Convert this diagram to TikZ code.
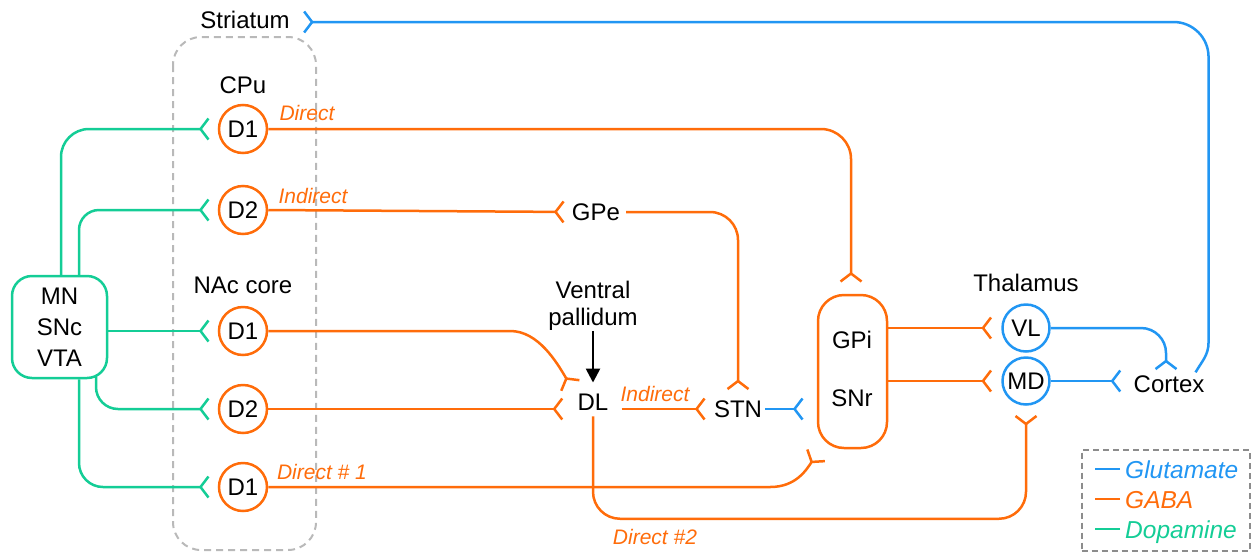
\documentclass[tikz,border=0pt]{standalone}
\usepackage{fontspec}
\setmainfont{Liberation Sans}
\usetikzlibrary{arrows.meta,calc}
\definecolor{gaba}{RGB}{255,108,10}
\definecolor{glu}{RGB}{33,150,243}
\definecolor{dop}{RGB}{20,205,150}
\definecolor{boxgray}{RGB}{185,185,185}
\definecolor{leggray}{RGB}{140,140,140}
\begin{document}
\begin{tikzpicture}[x=1pt,y=-1pt,
  every node/.style={inner sep=0pt, font=\fontsize{24}{31}\selectfont},
  lab/.style={font=\fontsize{21}{24}\selectfont\itshape, text=gaba},
  legtext/.style={font=\fontsize{24.5}{26}\selectfont\itshape, anchor=base west},
  cell/.style={circle, draw=gaba, line width=2.5pt, minimum size=48pt, inner sep=0pt},
  thcell/.style={circle, draw=glu, line width=2.5pt, minimum size=47pt, inner sep=0pt},
  con/.style={line width=2.5pt},
  syn/.style={-{Straight Barb[reversed,length=8pt,width=21pt]}},
  gab/.style={con, gaba, syn},
  glut/.style={con, glu, syn},
  dopa/.style={con, dop, syn},
]
\useasboundingbox (0,0) rectangle (1252,552);

% group box
\draw[boxgray, line width=2pt, dash pattern=on 7pt off 5pt, rounded corners=28pt] (173,37) rectangle (316,550);

% nodes
\node (striatum) at (245,20) {Striatum};
\node (cpu) at (243,85) {CPu};
\node[cell] (c1) at (243,129) {D1};
\node[cell] (c2) at (243,210) {D2};
\node (nac) at (243,285) {NAc core};
\node[cell] (n1) at (243,331) {D1};
\node[cell] (n2) at (243,409) {D2};
\node[cell] (n3) at (243,487) {D1};
\node[draw=dop, line width=2.5pt, rounded corners=20pt, minimum width=95pt, minimum height=102pt, align=center] (mn) at (59.5,327) {MN\\SNc\\VTA};
\node (gpe) at (596,212) {GPe};
\node[align=center, font=\fontsize{24}{27}\selectfont] (vp) at (593,306) {Ventral\\pallidum};
\node (dl) at (593,402) {DL};
\node (stn) at (738,409) {STN};
\node[draw=gaba, line width=2.5pt, rounded corners=26pt, minimum width=69pt, minimum height=153pt] (gpi) at (852.5,371.5) {};
\node (gpitext) at (852,340) {GPi};
\node (snr) at (852,398) {SNr};
\node (thal) at (1026,283) {Thalamus};
\node[thcell] (vl) at (1026,328) {VL};
\node[thcell] (md) at (1026,381) {MD};
\node (cortex) at (1169,384) {Cortex};

% dopamine
\draw[dopa, rounded corners=28pt, shorten >=8pt] ([xshift=1.5pt]mn.north) |- (c1.west);
\draw[dopa, rounded corners=20pt, shorten >=8pt] ([xshift=19.5pt]mn.north) |- (c2.west);
\draw[dopa, shorten >=8pt] (n1.west -| mn.east) -- (n1.west);
\draw[dopa, rounded corners=22pt, shorten >=8pt] ([xshift=36.5pt,yshift=3pt]mn.south) |- (n2.west);
\draw[dopa, rounded corners=24pt, shorten >=8pt] ([xshift=19.5pt]mn.south) |- (n3.west);

% GABA
\draw[gab, rounded corners=30pt, shorten >=11pt] (c1.east) -| ([xshift=-1.5pt]gpi.north);
\draw[gab, shorten >=7pt] (c2.east) -- (gpe.west);
\draw[gab, rounded corners=28pt, shorten <=6pt, shorten >=10pt] (gpe.east) -| (stn.north);
\coordinate (dlin) at ([xshift=-6.5pt,yshift=7pt]dl.north west);
\draw[gab] (n1.east) -- ++(242,0) .. controls +(28,0) and +(-14,-24) .. (dlin);
\draw[gab, shorten >=14pt] (n2.east) -- (n2.east -| dl.west);
\draw[gab, shorten <=13pt, shorten >=8pt] (stn.west -| dl.east) -- (stn.west);
\draw[gab, rounded corners=27pt, shorten <=6pt, shorten >=9pt] (dl.south) |- ([yshift=-113pt]md.south) -- (md.south);
\coordinate (gpiin) at ([yshift=-5pt]gpi.south west);
\draw[gab] (n3.east) -- ++(502,0) .. controls +(26,0) and +(-10,15) .. (gpiin);
\draw[gab, shorten >=9pt] (vl.west -| gpi.east) -- (vl.west);
\draw[gab, shorten >=9pt] (md.west -| gpi.east) -- (md.west);

% Glutamate
\draw[glut, rounded corners=25pt, shorten >=5pt] (vl.east) -| ([xshift=-3pt]cortex.north);
\draw[glut, shorten >=12pt] (md.east) -- (md.east -| cortex.west);
\draw[glut, shorten <=3pt, shorten >=13pt] (stn.east) -- (stn.east -| gpi.west);
\coordinate (cxout) at ([xshift=-9pt,yshift=3pt]cortex.north east);
\draw[glut, shorten >=13pt] (cxout) to[out=60,in=-90] ++(13,-30) [rounded corners=35pt] |- ([yshift=-2pt]striatum.east);

% ventral pallidum arrow
\draw[line width=2.5pt, -{Triangle[length=14pt,width=14pt]}, shorten >=11pt] (vp.south) -- (vp.south |- dl.north);

% pathway labels
\node[lab] (ldirect) at (307,113) {Direct};
\node[lab] (lind1) at (313,196) {Indirect};
\node[lab] (lind2) at (655,394) {Indirect};
\node[lab] (ldir1) at (322,472) {Direct \# 1};
\node[lab] (ldir2) at (655,537) {Direct \#2};

% legend
\node[draw=leggray, line width=2pt, dash pattern=on 6pt off 4pt, minimum width=168pt, minimum height=101pt] (legend) at (1165.5,500) {};
\node[legtext, text=glu] (lglu) at (1125,478) {Glutamate};
\node[legtext, text=gaba] (lgaba) at (1125,508) {GABA};
\node[legtext, text=dop] (ldop) at (1125,538) {Dopamine};
\draw[con, glu] ([xshift=-5pt,yshift=9pt]lglu.base west) -- ++(-25,0);
\draw[con, gaba] ([xshift=-5pt,yshift=9pt]lgaba.base west) -- ++(-25,0);
\draw[con, dop] ([xshift=-5pt,yshift=9pt]ldop.base west) -- ++(-25,0);
\end{tikzpicture}
\end{document}
